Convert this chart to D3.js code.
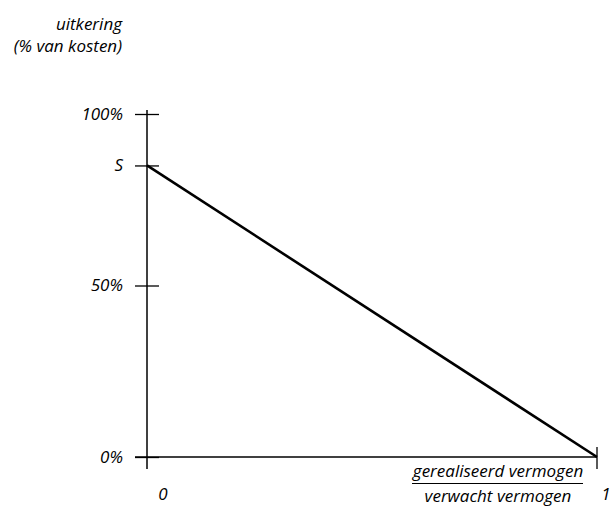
<!DOCTYPE html>
<html>
<head>
<meta charset="utf-8">
<script src="https://cdn.jsdelivr.net/npm/d3@7"></script>
<style>
  body { margin: 0; background: #fff; }
  text { font-family: "Open Sans", sans-serif; font-style: italic; fill: #000; }
</style>
</head>
<body>
<div id="plot"></div>
<script>
// payout as % of costs vs realised/expected wealth
var yTicks = [0, 50, 85, 100];
var yTickLabels = ["0%", "50%", "S", "100%"];
var xTicks = [0, 1];
var xTickLabels = ["0", "1"];
var linePoints = [[0, 85], [1, 0]];

var w = 611, h = 507, fs = "17px";
var svg = d3.select("#plot")
    .append("svg")
    .attr("width", w)
    .attr("height", h);

var xScale = d3.scaleLinear()
    .domain([0, 1])
    .range([147, 597]);

var yScale = d3.scaleLinear()
    .domain([0, 100])
    .range([457, 114]);

// y axis
var yAxis = d3.axisLeft(yScale)
    .tickValues(yTicks)
    .tickFormat(function (d, i) { return yTickLabels[i]; })
    .tickSizeInner(0)
    .tickSizeOuter(0)
    .tickPadding(24);

var gy = svg.append("g")
    .attr("transform", "translate(" + xScale(0) + ",0)")
    .call(yAxis);
gy.select(".domain").remove();
gy.selectAll("text")
    .style("font-size", fs)
    .style("font-family", "'Open Sans', sans-serif");
gy.selectAll(".tick").append("line")
    .attr("x1", -12).attr("x2", 12)
    .attr("stroke", "#000").attr("stroke-width", 1.3);

svg.append("line")
    .attr("x1", xScale(0)).attr("x2", xScale(0))
    .attr("y1", yScale(100) - 4).attr("y2", yScale(0) + 12)
    .attr("stroke", "#000").attr("stroke-width", 1.5);

// x axis
svg.append("line")
    .attr("x1", xScale(0) - 12).attr("x2", xScale(1))
    .attr("y1", yScale(0)).attr("y2", yScale(0))
    .attr("stroke", "#000").attr("stroke-width", 1.3);

svg.append("line")
    .attr("x1", xScale(1)).attr("x2", xScale(1))
    .attr("y1", yScale(0) - 10).attr("y2", yScale(0) + 12)
    .attr("stroke", "#000").attr("stroke-width", 1.3);

svg.selectAll(".xlab")
    .data(xTicks)
    .enter()
    .append("text")
    .attr("class", "xlab")
    .attr("x", function (d) { return xScale(d) + (d === 0 ? 16 : 9); })
    .attr("y", 500)
    .attr("text-anchor", "middle")
    .style("font-size", fs)
    .text(function (d, i) { return xTickLabels[i]; });

// payout line
var line = d3.line()
    .x(function (d) { return xScale(d[0]); })
    .y(function (d) { return yScale(d[1]); });

svg.append("path")
    .datum(linePoints)
    .attr("d", line)
    .attr("fill", "none")
    .attr("stroke", "#000")
    .attr("stroke-width", 2.6);

// y title
svg.append("text")
    .attr("x", 122).attr("y", 30)
    .attr("text-anchor", "end")
    .style("font-size", fs)
    .text("uitkering");
svg.append("text")
    .attr("x", 122).attr("y", 52)
    .attr("text-anchor", "end")
    .style("font-size", fs)
    .text("(% van kosten)");

// x title as a fraction
svg.append("text")
    .attr("x", 498).attr("y", 477)
    .attr("text-anchor", "middle")
    .style("font-size", fs)
    .text("gerealiseerd vermogen");
svg.append("line")
    .attr("x1", 412).attr("x2", 583)
    .attr("y1", 483.5).attr("y2", 483.5)
    .attr("stroke", "#000").attr("stroke-width", 1.2);
svg.append("text")
    .attr("x", 498).attr("y", 502)
    .attr("text-anchor", "middle")
    .style("font-size", fs)
    .text("verwacht vermogen");
</script>
</body>
</html>
